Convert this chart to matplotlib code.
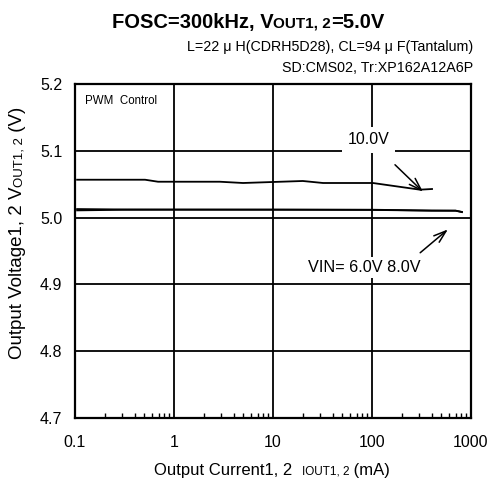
import matplotlib
matplotlib.use("Agg")
import matplotlib.pyplot as plt
import matplotlib.transforms as mtransforms
from matplotlib.ticker import LogLocator, NullFormatter, FixedLocator

plt.rcParams['font.family'] = ['Liberation Sans', 'DejaVu Sans']

# Data
i_10v = [0.105, 0.51, 0.69, 2.9, 4.98, 20, 32, 102, 305, 404]
v_10v = [5.0567, 5.0567, 5.0537, 5.0537, 5.0518, 5.0548, 5.0518, 5.0518, 5.0418, 5.0428]
i_6v = [0.105, 0.3, 1, 10, 100, 400, 700, 810]
v_6v = [5.0128, 5.0122, 5.0120, 5.0119, 5.0118, 5.0105, 5.0104, 5.0085]
i_8v = [0.105, 0.3, 1, 10, 100, 400, 700, 810]
v_8v = [5.0108, 5.0117, 5.0119, 5.0119, 5.0115, 5.0104, 5.0103, 5.0082]
x_ticks = [0.1, 1, 10, 100, 1000]
x_ticklabels = ['0.1', '1', '10', '100', '1000']
y_ticks = [4.7, 4.8, 4.9, 5.0, 5.1, 5.2]
y_ticklabels = ['4.7', '4.8', '4.9', '5.0', '5.1', '5.2']

W, H = 491, 479
fig = plt.figure(figsize=(W / 100, H / 100), dpi=100)
ax = fig.add_axes([75 / W, 1 - 418 / H, 396 / W, 334 / H])

for xs, ys in [(i_10v, v_10v), (i_6v, v_6v), (i_8v, v_8v)]:
    ax.plot(xs, ys, color='black', lw=1.3)

ax.set_xscale('log')
ax.set_xlim(0.1, 1000)
ax.set_ylim(4.7, 5.2)
ax.xaxis.set_major_locator(FixedLocator(x_ticks))
ax.set_xticklabels(x_ticklabels)
ax.xaxis.set_minor_locator(LogLocator(base=10, subs=range(2, 10)))
ax.xaxis.set_minor_formatter(NullFormatter())
ax.set_yticks(y_ticks)
ax.set_yticklabels(y_ticklabels)
ax.tick_params(axis='both', which='major', length=0, labelsize=11.5)
ax.tick_params(axis='x', which='major', pad=12)
ax.tick_params(axis='y', which='major', pad=9)
ax.tick_params(axis='x', which='minor', direction='in', length=3.5, width=1, top=False)
ax.grid(True, which='major', color='black', lw=1.3)
for s in ax.spines.values():
    s.set_linewidth(1.6)

ax.text(0.125, 5.175, 'PWM  Control', fontsize=8.3, va='center', ha='left')

ax.annotate('', xy=(343, 5.0358), xytext=(163, 5.082),
            arrowprops=dict(arrowstyle='->,head_length=0.9,head_width=0.3', color='black', lw=1.1))
ax.annotate('', xy=(614, 4.985), xytext=(292, 4.9447),
            arrowprops=dict(arrowstyle='->,head_length=0.9,head_width=0.3', color='black', lw=1.1))
ax.text(92, 5.1164, '10.0V', fontsize=11.5, ha='center', va='center',
        bbox=dict(facecolor='white', edgecolor='none', pad=4))
ax.text(84, 4.9255, 'VIN= 6.0V 8.0V', fontsize=11.7, ha='center', va='center',
        bbox=dict(facecolor='white', edgecolor='none', pad=2))

# helper for mixed-size text in pixel coords (origin top-left)
ident = mtransforms.IdentityTransform()
renderer = fig.canvas.get_renderer()


def seq_text(cx, cy, segs, rotation=0):
    widths = []
    objs = []
    for txt, size, weight in segs:
        t = fig.text(0, 0, txt, fontsize=size, fontweight=weight, transform=ident,
                     ha='left', va='baseline', rotation=rotation, rotation_mode='anchor')
        bb = t.get_window_extent(renderer)
        widths.append(bb.height if rotation else bb.width)
        objs.append(t)
    total = sum(widths)
    pos = -total / 2
    for t, w in zip(objs, widths):
        if rotation:
            t.set_position((cx, H - cy + pos))
        else:
            t.set_position((cx + pos, H - cy))
        pos += w


seq_text(248, 28, [('FOSC=300kHz, V', 14.5, 'bold'), ('OUT1, 2', 11, 'bold'), ('=5.0V', 14.5, 'bold')])
fig.text(473 / W, 1 - 47 / H, 'L=22 μ H(CDRH5D28), CL=94 μ F(Tantalum)', fontsize=10.3,
         ha='right', va='center')
fig.text(473 / W, 1 - 68 / H, 'SD:CMS02, Tr:XP162A12A6P', fontsize=10.3, ha='right', va='center')

seq_text(272, 475, [('Output Current1, 2  ', 12, 'normal'), ('IOUT1, 2', 8.5, 'normal'),
                    (' (mA)', 12, 'normal')])
seq_text(22, 233, [('Output Voltage1, 2 V', 13.5, 'normal'), ('OUT1, 2', 9.5, 'normal'),
                   (' (V)', 13.5, 'normal')], rotation=90)

fig.savefig('out.png', dpi=100)
